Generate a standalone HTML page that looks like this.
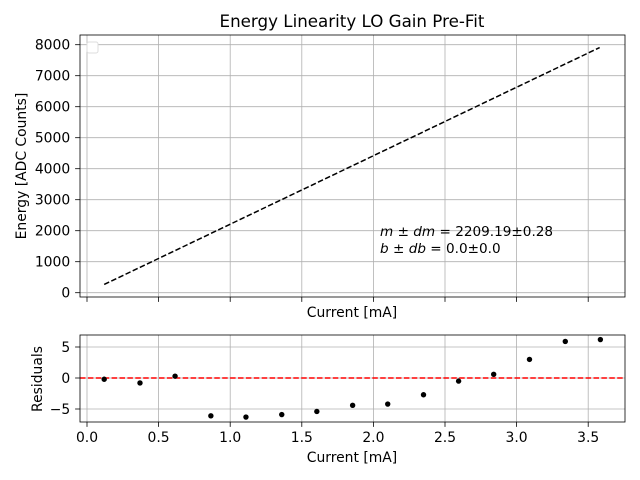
<!DOCTYPE html>
<html><head><meta charset="utf-8"><style>
body{margin:0;background:#fff}
svg{font-family:"DejaVu Sans","Liberation Sans",sans-serif;display:block}
</style></head><body>
<svg id="c" width="640" height="480" xmlns="http://www.w3.org/2000/svg"></svg>
<script>
const xTicks=[0,0.5,1,1.5,2,2.5,3,3.5];
const xTickLabels=["0.0","0.5","1.0","1.5","2.0","2.5","3.0","3.5"];
const eTicks=[0,1000,2000,3000,4000,5000,6000,7000,8000];
const rTicks=[-5,0,5];
const fitSlope=2209.19;
const fitIntercept=0;
const fitRange=[0.12,3.58];
const resX=[0.12,0.37,0.615,0.865,1.11,1.36,1.605,1.855,2.10,2.35,2.595,2.84,3.09,3.34,3.585];
const resY=[-0.2,-0.8,0.3,-6.1,-6.3,-5.9,-5.4,-4.4,-4.2,-2.7,-0.5,0.6,3.0,5.9,6.2];

const NS="http://www.w3.org/2000/svg";
const svg=document.getElementById('c');
function mk(t,a,p){const e=document.createElementNS(NS,t);for(const k in a)e.setAttribute(k,a[k]);(p||svg).appendChild(e);return e;}
const L=80,R=625;
const sx=v=>87+v*143.2;
const T1=35,B1=297, sy1=v=>292.7-v*0.031;
const T2=335,B2=422, sy2=v=>378-v*6.2;
const TF=13.9, TL=4.9;

for(const t of xTicks){
  let g=mk('line',{x1:sx(t),x2:sx(t),y1:T1,y2:B1,stroke:'#b0b0b0','stroke-width':0.8});
  
  g=mk('line',{x1:sx(t),x2:sx(t),y1:T2,y2:B2,stroke:'#b0b0b0','stroke-width':0.8});
  
  let k=mk('line',{x1:sx(t),x2:sx(t),y1:B1,y2:B1+TL,stroke:'#000','stroke-width':0.8});
  
  k=mk('line',{x1:sx(t),x2:sx(t),y1:B2,y2:B2+TL,stroke:'#000','stroke-width':0.8});
  
}
xTicks.forEach((t,i)=>{const tx=mk('text',{x:sx(t),y:442,'font-size':TF,'text-anchor':'middle',fill:'#000'});tx.textContent=xTickLabels[i];
});
for(const t of eTicks){
  let g=mk('line',{x1:L,x2:R,y1:sy1(t),y2:sy1(t),stroke:'#b0b0b0','stroke-width':0.8});
  
  mk('line',{x1:L-TL,x2:L,y1:sy1(t),y2:sy1(t),stroke:'#000','stroke-width':0.8});
  const tx=mk('text',{x:L-9.8,y:sy1(t)+5,'font-size':TF,'text-anchor':'end'});tx.textContent=t;
  
}
for(const t of rTicks){
  let g=mk('line',{x1:L,x2:R,y1:sy2(t),y2:sy2(t),stroke:'#b0b0b0','stroke-width':0.8});
  
  mk('line',{x1:L-TL,x2:L,y1:sy2(t),y2:sy2(t),stroke:'#000','stroke-width':0.8});
  const tx=mk('text',{x:L-9.8,y:sy2(t)+5,'font-size':TF,'text-anchor':'end'});tx.textContent=t<0?'\u2212'+(-t):t;
  
}
const fl=mk('line',{x1:sx(fitRange[0]),y1:sy1(fitSlope*fitRange[0]+fitIntercept),x2:sx(fitRange[1]),y2:sy1(fitSlope*fitRange[1]+fitIntercept),stroke:'#000','stroke-width':1.5,'stroke-dasharray':'5.5,2.4'});

const zl=mk('line',{x1:L,x2:R,y1:sy2(0),y2:sy2(0),stroke:'#f00','stroke-width':1.5,'stroke-dasharray':'5.5,2.4'});

resX.forEach((x,i)=>{const p=mk('circle',{cx:sx(x),cy:sy2(resY[i]),r:2.7,fill:'#000'});
});
const f1=mk('rect',{x:L,y:T1,width:R-L,height:B1-T1,fill:'none',stroke:'#000','stroke-width':0.8});

const f2=mk('rect',{x:L,y:T2,width:R-L,height:B2-T2,fill:'none',stroke:'#000','stroke-width':0.8});

const lg=mk('rect',{x:87,y:42,width:11,height:11,rx:2,fill:'#fff',stroke:'#ddd','stroke-width':1});

function txt(s,a,name){const t=mk('text',a);t.textContent=s;return t;}
txt('Energy Linearity LO Gain Pre-Fit',{x:352,y:27,'font-size':16.7,'text-anchor':'middle'},'chart-title');
txt('Current [mA]',{x:352,y:317,'font-size':13.9,'text-anchor':'middle'},'top-x-axis-title');
txt('Current [mA]',{x:352,y:462,'font-size':13.9,'text-anchor':'middle'},'bottom-x-axis-title');
txt('Energy [ADC Counts]',{x:26,y:166,'font-size':13.9,'text-anchor':'middle',transform:'rotate(-90 26 166)'},'energy-axis-title');
txt('Residuals',{x:42,y:379,'font-size':13.9,'text-anchor':'middle',transform:'rotate(-90 42 379)'},'residual-axis-title');
const a1=txt('',{x:380,y:236,'font-size':13.6},'slope-annotation');
a1.innerHTML='<tspan font-style="italic">m</tspan> ± <tspan font-style="italic">dm</tspan> = 2209.19±0.28';
const a2=txt('',{x:380,y:253,'font-size':13.6},'intercept-annotation');
a2.innerHTML='<tspan font-style="italic">b</tspan> ± <tspan font-style="italic">db</tspan> = 0.0±0.0';
</script>
</body></html>
